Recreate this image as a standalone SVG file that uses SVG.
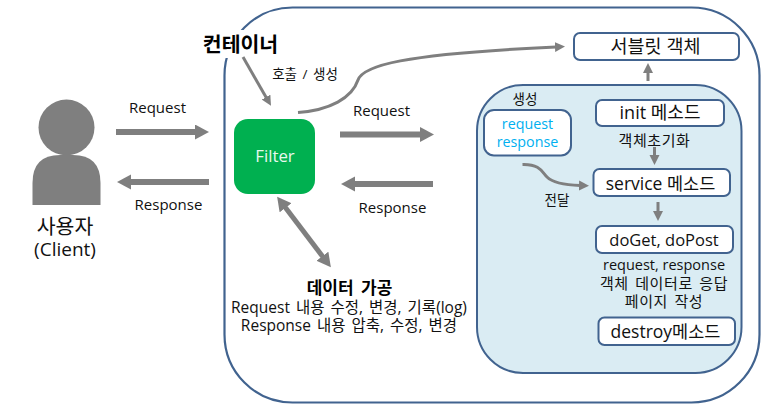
<svg xmlns="http://www.w3.org/2000/svg" width="783" height="409" viewBox="0 0 783 409">
<style>
text{font-family:"Open Sans","Noto Sans CJK KR",sans-serif;fill:#111;text-anchor:middle}
.box{fill:#fff;stroke:#41638f;stroke-width:2}
.a{fill:none;stroke:#7f7f7f}
.lb{font-size:15px}
.sm{font-size:13.500px}
.bx{font-size:17.500px}
.ln{font-size:15px;letter-spacing:.6px;word-spacing:2px}
.cy{font-size:14.300px;fill:#00b0f0}
.dt{font-size:15.500px;word-spacing:2px}
</style>
<defs>
<marker id="h" markerUnits="userSpaceOnUse" markerWidth="16" markerHeight="16" refX="1" refY="7.500" orient="auto"><path d="M0 0L14 7.500L0 15z" fill="#7f7f7f"/></marker>
<marker id="hs" markerUnits="userSpaceOnUse" markerWidth="12" markerHeight="12" refX="1" refY="5" orient="auto"><path d="M0 0L10 5L0 10z" fill="#7f7f7f"/></marker>
<marker id="hd" markerUnits="userSpaceOnUse" markerWidth="16" markerHeight="16" refX="1" refY="7.500" orient="auto-start-reverse"><path d="M0 0L14 7.500L0 15z" fill="#7f7f7f"/></marker>
</defs>
<rect width="783" height="409" fill="#fff"/>
<g id="container">
<rect x="224.500" y="7.500" width="535" height="395" rx="68" fill="#fff" stroke="#41638f" stroke-width="2.200"/>
<rect x="200" y="30" width="78" height="28" fill="#fff"/>
<text x="240.500" y="52" style="font-size:20.500px;font-weight:700;fill:#000">컨테이너</text>
</g>
<g id="inner-panel"><rect x="477" y="85" width="264.500" height="288" rx="46" fill="#daecf3" stroke="#41638f" stroke-width="2"/></g>
<g id="user">
<circle cx="66.500" cy="127.500" r="28" fill="#7f7f7f"/>
<path d="M32.500 205V183Q32.500 155 60 155H73Q100.500 155 100.500 183V205z" fill="#7f7f7f"/>
<text x="65" y="234" style="font-size:20.500px">사용자</text>
<text x="65" y="256" style="font-size:19px">(Client)</text>
</g>
<g id="filter"><rect x="234" y="119" width="81" height="75" rx="14" fill="#00b050"/>
<text x="275" y="162" style="font-size:16.800px;fill:#e8f8ee">Filter</text></g>
<g id="servlet"><rect class="box" x="574" y="33" width="165" height="27" rx="6"/><text x="655.500" y="53" style="font-size:18.500px">서블릿 객체</text></g>
<g id="init"><rect class="box" x="596" y="100" width="128" height="26" rx="6"/><text x="660" y="119" style="font-size:18px">init 메소드</text></g>
<g id="reqres"><rect class="box" x="484" y="110" width="87" height="45.500" rx="10"/>
<text x="527.500" y="129" class="cy">request</text>
<text x="527.500" y="147" class="cy">response</text></g>
<g id="service"><rect class="box" x="593.500" y="169" width="136.500" height="27" rx="6"/><text x="660.500" y="190" class="bx">service 메소드</text></g>
<g id="doget"><rect class="box" x="596" y="226" width="137" height="27" rx="6"/><text x="664" y="246" style="font-size:16.500px">doGet, doPost</text></g>
<g id="destroy"><rect class="box" x="598.500" y="317.500" width="136.500" height="27.500" rx="6"/><text x="665.500" y="338" class="bx">destroy메소드</text></g>
<g id="connectors">
<path class="a" stroke-width="6" marker-end="url(#h)" d="M116 132H196"/>
<path class="a" stroke-width="6" marker-end="url(#h)" d="M209 182H130"/>
<path class="a" stroke-width="6" marker-end="url(#h)" d="M340 134.500H421"/>
<path class="a" stroke-width="6" marker-end="url(#h)" d="M433 184H354"/>
<path class="a" stroke-width="5" marker-start="url(#hd)" marker-end="url(#hd)" d="M285 207L323 257"/>
<path class="a" stroke-width="3" marker-end="url(#hs)" d="M243 57L266.500 98"/>
<path class="a" stroke-width="3" marker-end="url(#hs)" d="M298 112.500C330 110 352 98 358 80C363 66 400 54 556 47"/>
<path class="a" stroke-width="3" marker-end="url(#hs)" d="M648 81V72"/>
<path class="a" stroke-width="3" marker-end="url(#hs)" d="M654.500 147V156"/>
<path class="a" stroke-width="3" marker-end="url(#hs)" d="M522.500 164.500C540 164 542 172 547 177C553 183 565 185 580 185.500"/>
<path class="a" stroke-width="3" marker-end="url(#hs)" d="M658 202V212"/>
</g>
<g id="labels">
<text x="157.500" y="113" class="lb">Request</text>
<text x="168.500" y="210" class="lb">Response</text>
<text x="381.500" y="116" class="lb">Request</text>
<text x="392.500" y="213" class="lb">Response</text>
<text x="305" y="79" style="font-size:13.500px;word-spacing:2px">호출 / 생성</text>
<text x="525" y="104" class="sm">생성</text>
<text x="557" y="205" class="sm">전달</text>
<text x="654.500" y="146" class="ln">객체초기화</text>
<text x="664" y="270" style="font-size:14.500px">request, response</text>
<text x="664" y="288.500" class="ln">객체 데이터로 응답</text>
<text x="664" y="306.500" class="ln">페이지 작성</text>
<text x="349.500" y="294" style="font-size:17px;font-weight:700;fill:#000;word-spacing:3px">데이터 가공</text>
<text x="349" y="312.500" class="dt">Request 내용 수정, 변경, 기록(log)</text>
<text x="349" y="331" class="dt">Response 내용 압축, 수정, 변경</text>
</g>
</svg>
